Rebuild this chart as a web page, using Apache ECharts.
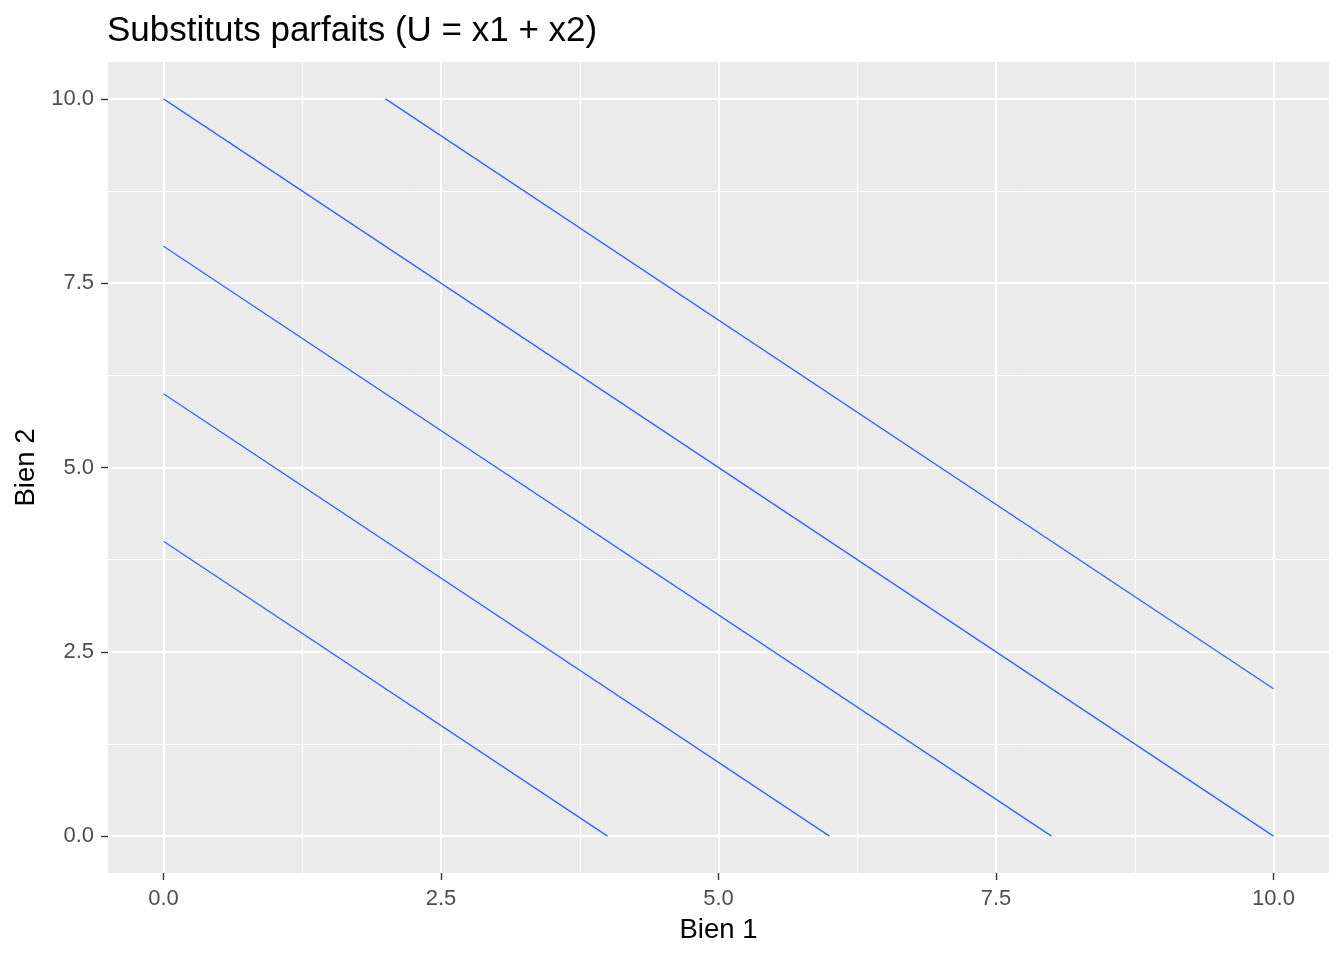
<!DOCTYPE html>
<html>
<head>
<meta charset="utf-8">
<script src="https://cdn.jsdelivr.net/npm/echarts@6/dist/echarts.min.js"></script>
<style>
html,body{margin:0;padding:0;background:#fff;}
#chart{width:1344px;height:960px;}
</style>
</head>
<body>
<div id="chart"></div>
<script>
// Data: indifference curves U = x1 + x2 (clipped to the 0..10 box)
const utilityLevels = [4, 6, 8, 10, 12];
const curveU4  = [[0, 4], [4, 0]];
const curveU6  = [[0, 6], [6, 0]];
const curveU8  = [[0, 8], [8, 0]];
const curveU10 = [[0, 10], [10, 0]];
const curveU12 = [[2, 10], [10, 2]];
const curves = [curveU4, curveU6, curveU8, curveU10, curveU12];

const majorTicks = [0, 2.5, 5, 7.5, 10];
const minorTicks = [1.25, 3.75, 6.25, 8.75];
const axisMin = -0.5, axisMax = 10.5;

const titleText = 'Substituts parfaits (U = x1 + x2)';
const xTitle = 'Bien 1';
const yTitle = 'Bien 2';

const FONT = '"Liberation Sans", Arial, sans-serif';

function axisCfg(name, isY) {
  return {
    type: 'value',
    min: axisMin,
    max: axisMax,
    name: name,
    nameLocation: 'middle',
    nameGap: isY ? 67 : 43,
    nameTextStyle: { fontFamily: FONT, fontSize: 27.5, color: '#000' },
    axisLine: { show: false, onZero: false },
    axisTick: { show: true, customValues: majorTicks, length: 7, lineStyle: { color: '#333333', width: 1.4 } },
    axisLabel: {
      customValues: majorTicks,
      formatter: v => Number(v).toFixed(1),
      fontFamily: FONT, fontSize: 22, color: '#4D4D4D',
      margin: isY ? 14 : 15
    },
    splitLine: { show: false },
    minorSplitLine: { show: false }
  };
}

const gridLineData = [];
minorTicks.forEach(v => {
  gridLineData.push({ xAxis: v, lineStyle: { color: '#ffffff', width: 1, type: 'solid' } });
  gridLineData.push({ yAxis: v, lineStyle: { color: '#ffffff', width: 1, type: 'solid' } });
});
majorTicks.forEach(v => {
  gridLineData.push({ xAxis: v, lineStyle: { color: '#ffffff', width: 2, type: 'solid' } });
  gridLineData.push({ yAxis: v, lineStyle: { color: '#ffffff', width: 2, type: 'solid' } });
});

const series = [{
  type: 'line',
  data: [],
  z: 1,
  silent: true,
  markLine: {
    z: 1,
    silent: true,
    symbol: ['none', 'none'],
    label: { show: false },
    emphasis: { disabled: true },
    animation: false,
    data: gridLineData
  }
}];
curves.forEach((c, i) => {
  series.push({
    type: 'line',
    name: 'U=' + utilityLevels[i],
    data: c,
    z: 10,
    showSymbol: false,
    symbol: 'none',
    lineStyle: { color: '#3366FF', width: 1.3 },
    animation: false
  });
});

const chart = echarts.init(document.getElementById('chart'), null, { renderer: 'canvas' });
chart.setOption({
  backgroundColor: '#ffffff',
  animation: false,
  title: {
    text: titleText,
    left: 107,
    top: 14,
    padding: 0,
    textStyle: { fontFamily: FONT, fontSize: 35, fontWeight: 'normal', color: '#000' }
  },
  grid: {
    left: 108, right: 15, top: 62, bottom: 87,
    show: true, backgroundColor: '#EBEBEB', borderWidth: 0
  },
  xAxis: axisCfg(xTitle, false),
  yAxis: axisCfg(yTitle, true),
  series: series
});
</script>
</body>
</html>
